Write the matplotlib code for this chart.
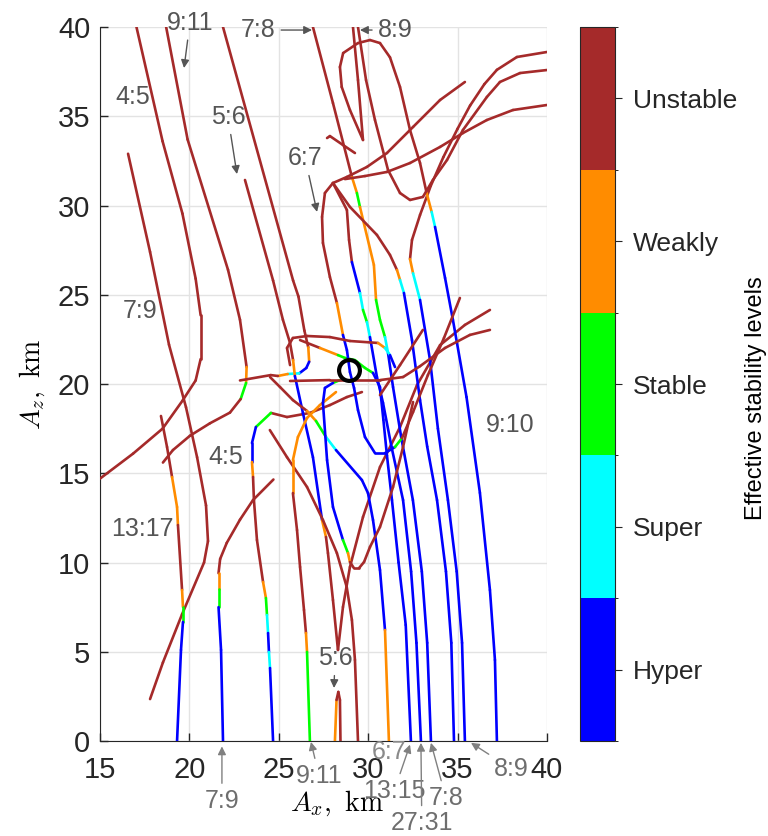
import numpy as np
import matplotlib
matplotlib.use('Agg')
import matplotlib.pyplot as plt
from matplotlib.collections import LineCollection
from matplotlib.colors import ListedColormap, BoundaryNorm
from matplotlib.cm import ScalarMappable

plt.rcParams['font.family'] = ['Liberation Sans', 'DejaVu Sans']
plt.rcParams['mathtext.fontset'] = 'cm'

#------------------------------------------------
# stability levels: 0 Hyper, 1 Super, 2 Stable, 3 Weakly, 4 Unstable
level_names = ['Hyper', 'Super', 'Stable', 'Weakly', 'Unstable']
level_colors = ['#0000ff', '#00ffff', '#00ff00', '#ff8c00', '#a52a2a']

#------------------------------------------------
# families (Ax, Az in km), level per segment
x_g79 = [16.57, 17.8, 18.86, 19.81, 20.43, 20.93, 21.04, 20.82, 19.59, 18.52, 17.8]
z_g79 = [32.9, 27.4, 22.2, 18.7, 15.9, 13.2, 11.2, 10.0, 7.1, 4.4, 2.35]
l_g79 = [4] * 10

x_a45 = [17.04, 18.5, 19.61, 20.35, 20.63, 20.63, 20.35, 19.61, 18.5, 16.85, 15.0]
z_a45 = [40, 33.6, 29.55, 25.9, 23.85, 21.4, 20.2, 19.06, 17.5, 16.1, 14.7]
l_a45 = [4] * 10

x_b911 = [18.7, 19.9, 22.16, 22.83, 23.2, 23.17, 22.87, 22.27, 21.15, 20.03, 19.08, 18.52]
z_b911 = [40, 33.7, 26.4, 23.6, 20.95, 20.06, 19.16, 18.4, 17.8, 17.1, 16.3, 15.6]
l_b911 = [4, 4, 4, 4, 3, 2, 4, 4, 4, 4, 4]

x_1317 = [18.41, 18.75, 19.03, 19.31, 19.36, 19.59, 19.64, 19.64, 19.53, 19.31]
z_1317 = [18.21, 16.47, 14.79, 13.11, 12.1, 8.46, 7.51, 6.67, 5.1, 0]
l_1317 = [4, 4, 3, 3, 4, 3, 2, 0, 0]

x_79b = [24.7, 23.56, 22.83, 22.09, 21.72, 21.63, 21.63, 21.63, 21.77, 21.88]
z_79b = [14.65, 13.5, 12.4, 11.1, 10.2, 9.4, 8.5, 7.5, 5.1, 0]
l_79b = [4, 4, 4, 4, 4, 3, 2, 0, 0]

x_45b = [29.65, 28.81, 27.86, 26.74, 25.46, 24.56, 23.72, 23.5, 23.5, 23.56, 23.61, 23.78,
         24.12, 24.28, 24.34, 24.4, 24.45, 24.51, 24.68]
z_45b = [19.55, 19.27, 18.82, 18.38, 18.15, 18.38, 17.59, 16.69, 15.63, 14.79, 13.5, 11.26,
         8.91, 8.01, 7.06, 6.05, 4.99, 4.09, 0]
l_45b = [4, 4, 4, 4, 4, 2, 0, 0, 3, 4, 4, 4, 3, 2, 1, 0, 1, 0]

x_c = [21.88, 25.8, 26.1, 26.43, 26.65, 26.7, 26.54, 26.15, 25.5, 24.95, 24.55, 22.83]
z_c = [40, 25.8, 24.9, 23.0, 22.05, 21.25, 20.9, 20.6, 20.56, 20.45, 20.5, 20.2]
l_c = [4, 4, 4, 4, 3, 0, 0, 1, 3, 4, 4]

x_56 = [23.11, 24.68, 25.23, 25.63, 25.8, 25.9, 26.35, 26.91, 27.42, 27.64, 27.75, 28.03, 28.31,
        28.59, 28.98, 29.71, 30.66, 31.78, 32.73, 34.02, 35.41, 36.81]
z_56 = [31.43, 25.8, 23.6, 22.3, 21.34, 20.45, 18.38, 15.9, 12.38, 11.43, 10.53, 7.9, 5.1,
        7.51, 9.75, 12.55, 15.35, 17.59, 19.94, 22.18, 23.31, 24.15]
l_56 = [4, 4, 4, 4, 3, 0, 0, 0, 3] + [4] * 12

x_c9 = [24.5, 25.46, 26.58, 27.47, 28.25, 28.8, 29.09, 29.26, 29.43]
z_c9 = [17.42, 15.9, 14.23, 12.38, 10.53, 8.63, 6.78, 4.54, 0]
l_c9 = [4] * 8

x_spk = [28.14, 28.23, 28.33, 28.42, 28.45]
z_spk = [0, 2.3, 2.75, 2.3, 0]
l_spk = [3, 4, 4, 4]

x_911b = [28.2, 27.3, 26.58, 26.07, 25.79, 25.79, 26.02, 26.19, 26.41, 26.52, 26.58, 26.74]
z_911b = [19.55, 18.82, 18.1, 17.03, 15.74, 13.89, 11.82, 9.75, 7.34, 6.05, 4.99, 0]
l_911b = [3, 3, 3, 3, 3, 4, 4, 4, 4, 3, 2]

x_67b = [24.51, 25.07, 25.79, 26.58, 27.08, 27.64, 28.2, 29.65, 29.99, 30.27, 30.66, 30.94, 31.16]
z_67b = [20.39, 19.83, 19.1, 18.49, 17.93, 17.03, 16.3, 14.62, 13.89, 12.38, 9.58, 6.22, 0]
l_67b = [4, 4, 4, 3, 2, 1, 0, 0, 0, 0, 0, 3]

x_1315 = [26.19, 27.3, 28.31, 28.7, 29.26, 29.82, 30.27, 30.66, 30.85, 31.05, 31.33, 31.7, 32.1, 32.39]
z_1315 = [22.46, 22.02, 21.62, 21.46, 21.34, 20.9, 20.62, 19.83, 18.0, 16.0, 13.5, 10.0, 6.5, 0]
l_1315 = [4, 3, 2, 2, 2, 2, 0, 0, 0, 0, 0, 0, 0]

x_2731 = [28.03, 28.81, 28.93, 29.09, 29.54, 29.71, 29.93, 30.1, 30.49, 30.83, 31.3, 31.95, 32.4, 32.7, 32.95]
z_2731 = [31.26, 29.75, 28.07, 26.83, 25.1, 24.15, 23.47, 22.63, 20.39, 18.94, 16.5, 13.5, 9.5, 5.5, 0]
l_2731 = [4, 4, 4, 0, 1, 2, 1, 0, 0, 0, 0, 0, 0, 0]

x_78 = [26.91, 28.03, 29.09, 29.37, 29.54, 30.32, 30.44, 30.66, 30.94, 31.11, 31.39, 31.85, 32.5, 33.0, 33.3, 33.51]
z_78 = [40, 35.74, 31.6, 30.7, 29.92, 26.67, 24.71, 23.59, 22.63, 21.74, 19.83, 17.0, 13.5, 9.5, 5.5, 0]
l_78 = [4, 4, 3, 2, 3, 3, 2, 2, 1, 0, 0, 0, 0, 0, 0]

x_r6 = [28.03, 28.98, 30.49, 31.22, 31.61, 31.78, 32.0, 32.45, 32.9, 33.3, 33.85, 34.35, 34.65, 34.8]
z_r6 = [31.26, 29.92, 28.35, 27.23, 26.39, 25.83, 25.1, 22.46, 19.1, 16.5, 13.5, 9.5, 5.5, 0]
l_r6 = [4, 4, 4, 4, 3, 1, 0, 0, 0, 0, 0, 0, 0]

x_89b = [40.0, 38.32, 37.2, 36.5, 35.7, 35.0, 34.2, 33.5, 32.9, 32.45, 32.34, 32.51, 32.9,
         33.46, 33.9, 34.46, 34.95, 35.25, 35.41]
z_89b = [38.6, 38.32, 37.6, 36.8, 35.6, 34.3, 32.7, 31.1, 29.47, 28.07, 27.0, 26.2, 24.71,
         21.34, 17.5, 13.5, 9.5, 5.5, 0]
l_89b = [4] * 10 + [3, 1] + [0] * 6

x_910 = [29.71, 28.98, 28.52, 28.42, 28.6, 29.43, 30.1, 30.66, 31.22, 31.78, 32.34, 32.9, 33.27,
         33.55, 33.74, 34.3, 34.74, 35.5, 36.25, 36.81, 37.09, 37.2]
z_910 = [33.67, 35.35, 36.64, 37.76, 38.54, 39.1, 39.27, 39.1, 38.3, 36.64, 34.23, 32.38, 30.7,
         29.64, 28.8, 25.94, 23.59, 19.27, 13.9, 8.46, 4.54, 0]
l_910 = [4] * 12 + [3, 1] + [0] * 7

x_89s = [29.15, 29.43, 29.71]
z_89s = [40, 37.03, 33.67]
l_89s = [4, 4]

x_89u = [29.43, 29.88, 30.38, 31.11, 31.78, 32.34, 33.06, 33.62, 34.41, 35.3, 36.64, 37.37, 38.49, 40.0]
z_89u = [40, 37.03, 34.79, 31.99, 30.7, 30.31, 30.48, 31.43, 32.55, 34.23, 36.08, 36.92, 37.42, 37.59]
l_89u = [4] * 13

x_u3 = [40.0, 38.1, 36.64, 35.3, 34.02, 32.34, 31.05, 29.82, 28.7]
z_u3 = [35.63, 35.35, 34.79, 34.06, 33.28, 32.38, 31.88, 31.65, 31.48]
l_u3 = [4] * 8

x_67 = [35.41, 34.02, 32.51, 31.05, 29.93, 28.81, 28.03, 27.58, 27.42, 27.47, 27.86, 28.25, 28.59,
        28.81, 28.98, 29.21, 29.43, 29.82, 30.38, 30.94, 31.5, 31.89, 32.51, 33.34, 34.24, 35.13]
z_67 = [36.92, 35.91, 34.4, 32.94, 32.16, 31.6, 31.26, 30.7, 29.36, 27.9, 25.99, 24.54, 22.75,
        21.9, 20.67, 19.78, 18.54, 17.03, 16.13, 16.13, 16.47, 16.97, 18.43, 20.5, 22.58, 24.82]
l_67 = [4] * 11 + [3] + [0] * 8 + [2] + [4] * 4

x_bowl = [28.42, 28.03, 27.58, 27.47, 27.7, 28.03, 28.59, 28.87, 28.98, 29.2, 29.49, 29.77, 30.1,
          30.66, 31.39, 31.95, 32.51]
z_bowl = [20.22, 20.06, 19.78, 18.94, 15.74, 13.11, 11.26, 10.53, 10.03, 9.69, 9.69, 10.03, 10.87,
          11.99, 14.23, 16.47, 18.99]
l_bowl = [2, 0, 0, 0, 0, 0, 2, 3, 4, 4, 4, 4, 4, 4, 4, 4]

x_low = [25.63, 27.86, 30.66, 31.95, 32.9, 34.3, 35.69, 36.81]
z_low = [20.17, 20.22, 20.22, 20.39, 21.0, 22.02, 22.75, 23.03]
l_low = [4] * 7

x_sh = [30.66, 31.78, 33.06]
z_sh = [19.38, 21.06, 23.03]
l_sh = [4, 4]

x_top = [25.63, 25.46, 25.79, 26.58, 27.86, 28.98, 30.55, 30.94, 31.22, 31.5]
z_top = [21.06, 22.02, 22.58, 22.69, 22.63, 22.41, 22.3, 22.02, 21.62, 20.95]
l_top = [4, 4, 4, 4, 4, 4, 3, 1, 0]

x_hook = [27.7, 27.86, 28.59, 29.26]
z_hook = [33.78, 33.89, 33.39, 32.94]
l_hook = [4, 4, 4]

families = [
    (x_g79, z_g79, l_g79), (x_a45, z_a45, l_a45), (x_b911, z_b911, l_b911),
    (x_1317, z_1317, l_1317), (x_79b, z_79b, l_79b), (x_45b, z_45b, l_45b),
    (x_c, z_c, l_c), (x_56, z_56, l_56), (x_c9, z_c9, l_c9), (x_spk, z_spk, l_spk),
    (x_911b, z_911b, l_911b), (x_67b, z_67b, l_67b), (x_1315, z_1315, l_1315),
    (x_2731, z_2731, l_2731), (x_78, z_78, l_78), (x_r6, z_r6, l_r6),
    (x_89b, z_89b, l_89b), (x_910, z_910, l_910), (x_89s, z_89s, l_89s),
    (x_89u, z_89u, l_89u), (x_u3, z_u3, l_u3), (x_67, z_67, l_67),
    (x_bowl, z_bowl, l_bowl), (x_low, z_low, l_low), (x_sh, z_sh, l_sh),
    (x_top, z_top, l_top), (x_hook, z_hook, l_hook),
]

# nominal point
x_nom = [28.93]
z_nom = [20.78]

# labels: text, text pos, arrow tip (None = no arrow)
labels_in = [
    ('9:11', (20.03, 40.25), (19.7, 37.7)),
    ('7:8', (23.85, 39.83), (26.86, 39.83)),
    ('8:9', (31.5, 39.83), (29.54, 39.83)),
    ('4:5', (16.85, 36.08), None),
    ('5:6', (22.16, 34.96), (22.66, 31.76)),
    ('6:7', (26.47, 32.66), (27.14, 29.64)),
    ('7:9', (17.24, 24.09), None),
    ('4:5', (22.05, 15.91), None),
    ('9:10', (37.93, 17.7), None),
    ('13:17', (17.35, 11.88), None),
    ('5:6', (28.14, 4.65), (28.09, 2.97)),
]
labels_out = [
    ('7:9', (21.82, -3.35), (21.82, -0.3)),
    ('9:11', (27.25, -1.95), (26.8, -0.05)),
    ('6:7', (31.15, -0.6), None),
    ('13:15', (31.45, -2.8), (32.34, -0.2)),
    ('7:8', (34.35, -3.2), (33.51, -0.1)),
    ('27:31', (33.0, -4.6), (32.95, -0.1)),
    ('8:9', (38.0, -1.55), (35.75, -0.1)),
]

#------------------------------------------------
fig = plt.figure(figsize=(7.68, 8.36), dpi=100)
ax = fig.add_axes([0.1302, 0.1136, 0.582, 0.8541])
cax = fig.add_axes([0.7552, 0.1136, 0.0456, 0.8541])

cmap = ListedColormap(level_colors)
norm = BoundaryNorm(np.arange(-0.5, 5.5, 1), cmap.N)

for xs, zs, lv in families:
    pts = np.column_stack([xs, zs])
    segs = np.stack([pts[:-1], pts[1:]], axis=1)
    lc = LineCollection(segs, colors=[level_colors[k] for k in lv], linewidths=1.9,
                        capstyle='round', joinstyle='round', zorder=3)
    ax.add_collection(lc)

ax.plot(x_nom, z_nom, 'o', ms=15, mfc='none', mec='k', mew=3, zorder=5)

fs_lab = 18
txt_col = '#555555'
for t, pos, tip in labels_in:
    if tip is None:
        ax.text(pos[0], pos[1], t, fontsize=fs_lab, color=txt_col, ha='center', va='center', zorder=6)
    else:
        ax.annotate(t, xy=tip, xytext=pos, fontsize=fs_lab, color=txt_col, ha='center', va='center',
                    annotation_clip=False, zorder=6,
                    arrowprops=dict(arrowstyle='-|>', color=txt_col, lw=1, mutation_scale=12,
                                    shrinkA=2, shrinkB=0))
for t, pos, tip in labels_out:
    if tip is None:
        ax.text(pos[0], pos[1], t, fontsize=fs_lab, color='#8a8a8a', ha='center', va='center',
                clip_on=False, zorder=6)
    else:
        ax.annotate(t, xy=tip, xytext=pos, fontsize=fs_lab, color='#6e6e6e', ha='center', va='center',
                    annotation_clip=False, zorder=6,
                    arrowprops=dict(arrowstyle='-|>', color='#808080', lw=1, mutation_scale=12,
                                    shrinkA=2, shrinkB=0))

ax.set_xlim(15, 40)
ax.set_ylim(0, 40)
ax.set_xticks(np.arange(15, 41, 5))
ax.set_yticks(np.arange(0, 41, 5))
ax.grid(True, color='#e3e3e3', lw=1)
ax.set_axisbelow(True)
for s in ['top', 'right']:
    ax.spines[s].set_visible(False)
for s in ['left', 'bottom']:
    ax.spines[s].set_color('#262626')
ax.tick_params(direction='in', length=6, width=1, labelsize=21, colors='#262626')
ax.tick_params(axis='x', pad=11)
ax.tick_params(axis='y', pad=7)
ax.set_xlabel(r'$A_x,\ \mathrm{km}$', fontsize=20)
ax.set_ylabel(r'$A_z,\ \mathrm{km}$', fontsize=20)
ax.xaxis.set_label_coords(0.53, -0.066)
ax.yaxis.set_label_coords(-0.118, 0.5)

cb = fig.colorbar(ScalarMappable(norm=norm, cmap=cmap), cax=cax, ticks=np.arange(5))
cb.ax.set_yticklabels(level_names)
cb.ax.tick_params(labelsize=19, length=5, direction='out', colors='#262626', pad=8)
cb.outline.set_edgecolor('#262626')
cb.set_label('Effective stability levels', fontsize=17,
             family=['Liberation Sans Narrow', 'Liberation Sans'])
cb.ax.yaxis.set_label_coords(4.72, 0.48)

fig.savefig('out.png', dpi=100)
